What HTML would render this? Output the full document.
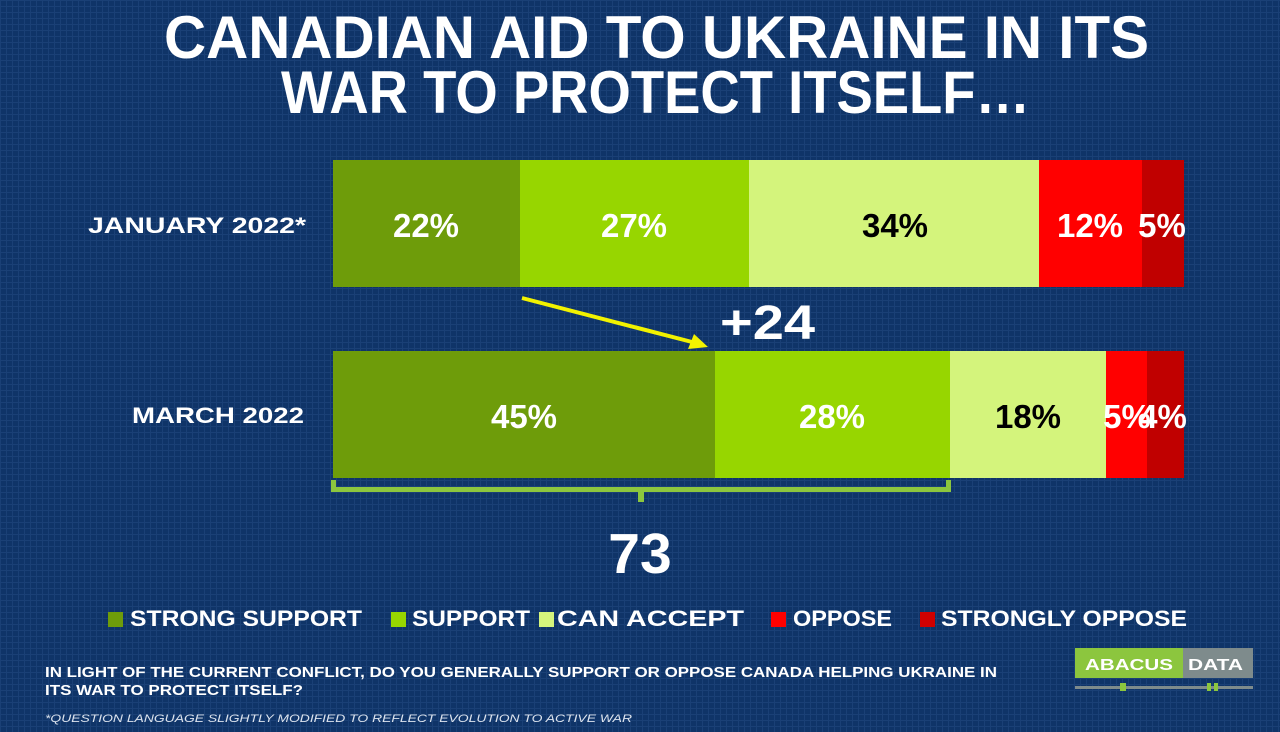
<!DOCTYPE html>
<html>
<head>
<meta charset="utf-8">
<style>
  html, body { margin: 0; padding: 0; width: 1280px; height: 732px; overflow: hidden; background: #0f3468; }
  svg { display: block; }
  text { font-family: "Liberation Sans", Arial, sans-serif; font-weight: bold; }
</style>
</head>
<body>
<svg width="1280" height="732" viewBox="0 0 1280 732" xmlns="http://www.w3.org/2000/svg">
  <defs>
    <pattern id="grid" width="6" height="6" patternUnits="userSpaceOnUse">
      <rect width="6" height="6" fill="#0f3468"/>
      <rect x="0" y="0" width="6" height="1" fill="#1a4076"/>
      <rect x="0" y="0" width="1" height="6" fill="#1a4076"/>
    </pattern>
  </defs>
  <rect width="1280" height="732" fill="url(#grid)"/>

  <!-- Title -->
  <text x="164" y="58" font-size="60" fill="#ffffff" textLength="985" lengthAdjust="spacingAndGlyphs">CANADIAN AID TO UKRAINE IN ITS</text>
  <text x="281" y="113" font-size="60" fill="#ffffff" textLength="749" lengthAdjust="spacingAndGlyphs">WAR TO PROTECT ITSELF…</text>

  <!-- Row labels -->
  <text x="88" y="233" font-size="22" fill="#ffffff" textLength="218" lengthAdjust="spacingAndGlyphs">JANUARY 2022*</text>
  <text x="132" y="423" font-size="22" fill="#ffffff" textLength="172" lengthAdjust="spacingAndGlyphs">MARCH 2022</text>

  <!-- January bar -->
  <rect x="333" y="160" width="187" height="127" fill="#6e9c0a"/>
  <rect x="520" y="160" width="229" height="127" fill="#97d600"/>
  <rect x="749" y="160" width="290" height="127" fill="#d4f47c"/>
  <rect x="1039" y="160" width="103" height="127" fill="#ff0000"/>
  <rect x="1142" y="160" width="42" height="127" fill="#c00000"/>
  <g font-size="33" text-anchor="middle">
    <text x="426" y="237" fill="#ffffff">22%</text>
    <text x="634" y="237" fill="#ffffff">27%</text>
    <text x="895" y="237" fill="#000000">34%</text>
    <text x="1090" y="237" fill="#ffffff">12%</text>
    <text x="1162" y="237" fill="#ffffff">5%</text>
  </g>

  <!-- March bar -->
  <rect x="333" y="351" width="382" height="127" fill="#6e9c0a"/>
  <rect x="715" y="351" width="235" height="127" fill="#97d600"/>
  <rect x="950" y="351" width="156" height="127" fill="#d4f47c"/>
  <rect x="1106" y="351" width="41" height="127" fill="#ff0000"/>
  <rect x="1147" y="351" width="37" height="127" fill="#c00000"/>
  <g font-size="33" text-anchor="middle">
    <text x="524" y="428" fill="#ffffff">45%</text>
    <text x="832" y="428" fill="#ffffff">28%</text>
    <text x="1028" y="428" fill="#000000">18%</text>
    <text x="1127" y="428" fill="#ffffff">5%</text>
    <text x="1163" y="428" fill="#ffffff">4%</text>
  </g>

  <!-- Arrow -->
  <line x1="522" y1="298" x2="692" y2="342" stroke="#f2f200" stroke-width="4"/>
  <polygon points="708,347 688,349 694,334" fill="#f2f200"/>
  <text x="720" y="339" font-size="48" fill="#ffffff" textLength="95" lengthAdjust="spacingAndGlyphs">+24</text>

  <!-- Bracket -->
  <g fill="#8cc63e">
    <rect x="331" y="487" width="620" height="5"/>
    <rect x="331" y="480" width="5" height="12"/>
    <rect x="946" y="480" width="5" height="12"/>
    <rect x="638" y="490" width="6" height="12"/>
  </g>
  <text x="640" y="573" font-size="57" fill="#ffffff" text-anchor="middle">73</text>

  <!-- Legend -->
  <rect x="108" y="612" width="15" height="15" fill="#6e9c0a"/>
  <text x="130" y="626" font-size="22" fill="#ffffff" textLength="232" lengthAdjust="spacingAndGlyphs">STRONG SUPPORT</text>
  <rect x="391" y="612" width="15" height="15" fill="#97d600"/>
  <text x="412" y="626" font-size="22" fill="#ffffff" textLength="118" lengthAdjust="spacingAndGlyphs">SUPPORT</text>
  <rect x="539" y="612" width="15" height="15" fill="#d4f47c"/>
  <text x="557" y="626" font-size="22" fill="#ffffff" textLength="187" lengthAdjust="spacingAndGlyphs">CAN ACCEPT</text>
  <rect x="771" y="612" width="15" height="15" fill="#ff0000"/>
  <text x="793" y="626" font-size="22" fill="#ffffff" textLength="99" lengthAdjust="spacingAndGlyphs">OPPOSE</text>
  <rect x="920" y="612" width="15" height="15" fill="#d00000"/>
  <text x="941" y="626" font-size="22" fill="#ffffff" textLength="246" lengthAdjust="spacingAndGlyphs">STRONGLY OPPOSE</text>

  <!-- Question -->
  <text x="45" y="677" font-size="15" fill="#ffffff" textLength="952" lengthAdjust="spacingAndGlyphs">IN LIGHT OF THE CURRENT CONFLICT, DO YOU GENERALLY SUPPORT OR OPPOSE CANADA HELPING UKRAINE IN</text>
  <text x="45" y="695" font-size="15" fill="#ffffff" textLength="258" lengthAdjust="spacingAndGlyphs">ITS WAR TO PROTECT ITSELF?</text>
  <text x="45" y="722" font-size="11" font-style="italic" fill="#dde4ee" textLength="587" lengthAdjust="spacingAndGlyphs" style="font-weight:normal">*QUESTION LANGUAGE SLIGHTLY MODIFIED TO REFLECT EVOLUTION TO ACTIVE WAR</text>

  <!-- Logo -->
  <rect x="1075" y="648" width="108" height="30" fill="#8cc63e"/>
  <rect x="1183" y="648" width="70" height="30" fill="#7e8b8c"/>
  <text x="1085" y="670" font-size="16" fill="#ffffff" textLength="88" lengthAdjust="spacingAndGlyphs">ABACUS</text>
  <text x="1188" y="670" font-size="16" fill="#ffffff" textLength="55" lengthAdjust="spacingAndGlyphs">DATA</text>
  <rect x="1075" y="686" width="178" height="3" fill="#7e8b8c"/>
  <rect x="1120" y="683" width="6" height="8" fill="#8cc63e"/>
  <rect x="1207" y="683" width="4" height="8" fill="#8cc63e"/>
  <rect x="1214" y="683" width="4" height="8" fill="#8cc63e"/>
</svg>
</body>
</html>
